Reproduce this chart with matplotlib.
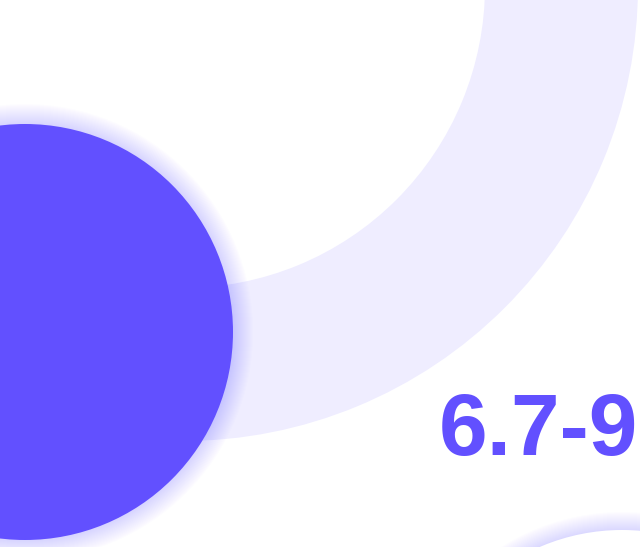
import matplotlib
matplotlib.use('Agg')
import matplotlib.pyplot as plt
from matplotlib.patches import Circle, Wedge

# chart content
label = "6.7-9"
ring_center = (183, -14)
ring_radii = (302, 455)          # inner, outer
disc_center = (25, 332)
disc_radius = 208
corner_center = (622, 738)
corner_radius = 208

purple = '#6250FF'
lavender = '#EFEDFF'

fig = plt.figure(figsize=(6.4, 5.47), dpi=100)
ax = fig.add_axes([0, 0, 1, 1])
ax.set_xlim(0, 640)
ax.set_ylim(547, 0)
ax.set_aspect('auto')
ax.axis('off')

# background ring
ax.add_patch(Wedge(ring_center, ring_radii[1], 0, 360,
                   width=ring_radii[1] - ring_radii[0],
                   facecolor=lavender, edgecolor='none'))


def glow(center, radius, spread=20, strength=0.012):
    # soft shadow made of stacked rings
    for i in range(spread, 0, -1):
        ax.add_patch(Circle(center, radius + i, facecolor=purple,
                            edgecolor='none', alpha=strength))


glow(disc_center, disc_radius)
ax.add_patch(Circle(disc_center, disc_radius, facecolor=purple, edgecolor='none'))

glow(corner_center, corner_radius, spread=18, strength=0.01)
ax.add_patch(Circle(corner_center, corner_radius, facecolor='white', edgecolor='none'))

ax.text(538, 433, label, color=purple, fontsize=63, fontweight='bold',
        family=['Liberation Sans', 'DejaVu Sans'], ha='center', va='center')

fig.savefig('out.png', dpi=100)
